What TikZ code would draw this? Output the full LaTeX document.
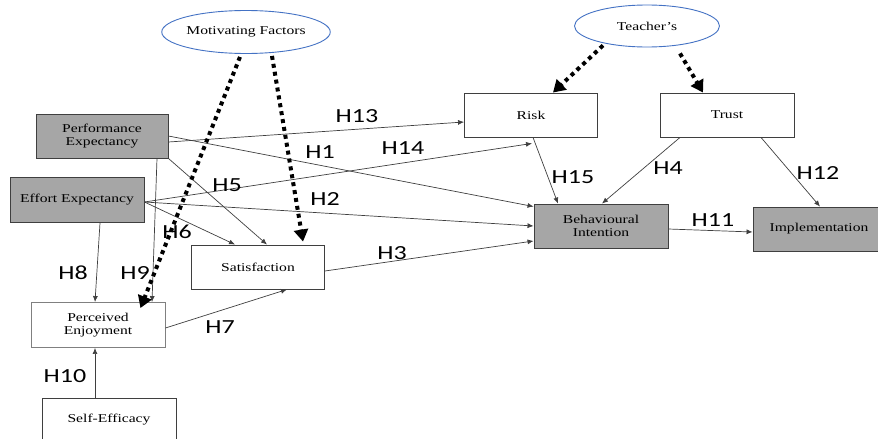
\documentclass[tikz,border=0pt]{standalone}
\usepackage{fontspec}
\setmainfont{Liberation Serif}[FakeStretch=1.3]
\newfontfamily\hypfont{Carlito}[FakeStretch=1.3]
\usepackage{tikz}
\usetikzlibrary{positioning, arrows.meta, calc, shapes.geometric}
\definecolor{boxgray}{HTML}{A6A6A6}
\definecolor{edgegray}{HTML}{3F3F3F}
\definecolor{ovalblue}{HTML}{4472C4}
\tikzset{
  construct/.style={draw=edgegray, line width=0.9pt, minimum width=134pt, minimum height=44pt,
                    inner sep=1pt, align=center, font=\fontsize{12}{13}\selectfont},
  graybox/.style={construct, fill=boxgray},
  whitebox/.style={construct, fill=white},
  factor/.style={ellipse, draw=ovalblue, line width=0.9pt, minimum width=145pt, minimum height=43pt,
                 inner sep=0pt, fill=white, font=\fontsize{12}{13}\selectfont},
  link/.style={draw=edgegray, line width=0.7pt, -{Latex[length=6pt,width=5pt]}},
  moderates/.style={line width=4pt, dash pattern=on 4pt off 4pt, -{Triangle[length=12pt,width=14pt]}},
  hyp/.style={font=\hypfont\fontsize{20}{22}\selectfont, inner sep=0pt}
}

\begin{document}
\begin{tikzpicture}[x=1pt, y=-1pt]
    \useasboundingbox (0,0) rectangle (878,439);
    \node[factor] (mot) at (246,32) {Motivating Factors};
    \node[factor, minimum height=42pt] (tea) at (647,26) {Teacher’s};
    \node[graybox, minimum width=132pt] (perf) at (102,136) {Performance\\Expectancy};
    \node[graybox, minimum height=45pt] (eff) at (77,200) {Effort Expectancy};
    \node[whitebox, minimum width=133pt] (risk) at (531,115) {Risk};
    \node[whitebox] (trust) at (727,115) {Trust};
    \node[graybox] (beh) at (601,226) {Behavioural\\Intention};
    \node[graybox, minimum width=132pt] (impl) at (819,229) {Implementation};
    \node[whitebox, minimum width=133pt] (sat) at (258,267) {Satisfaction};
    \node[whitebox, draw=gray, minimum height=45pt] (enj) at (98,325) {Perceived\\Enjoyment};
    \node[whitebox] (self) at (109,420) {Self-Efficacy};

    \draw[link] ($(perf.east)+(0,6)$) -- ($(risk.west)+(0,7)$);
    \draw[link] (perf.east) -- ($(beh.north west)+(0,3)$);
    \draw[link] ($(eff.east)+(0,2)$) -- ($(risk.south)+(1,6)$);
    \draw[link] ($(eff.east)+(0,2)$) -- (beh.west);
    \draw[link] ($(eff.east)+(0,2)$) -- ($(sat.north)+(-23,0)$);
    \draw[link] (perf.south east) -- ($(sat.north)+(9,0)$);
    \draw[link] ($(eff.south)+(23,0)$) -- ($(enj.north)+(-3,0)$);
    \draw[link] ($(perf.south)+(55,0)$) -- ($(enj.north)+(54,0)$);
    \draw[link] ($(self.north)+(-14,0)$) -- ($(enj.south)+(-3,0)$);
    \draw[link] ($(enj.east)+(0,3)$) -- ($(sat.south)+(29,0)$);
    \draw[link] ($(sat.east)+(0,4)$) -- ($(beh.west)+(0,15)$);
    \draw[link] ($(risk.south)+(2,0)$) -- ($(beh.north)+(-43,0)$);
    \draw[link] ($(trust.south)+(-47,0)$) -- ($(beh.north)+(1,0)$);
    \draw[link] ($(trust.south)+(34,0)$) -- ($(impl.north)+(1,0)$);
    \draw[link] ($(beh.east)+(0,3)$) -- ($(impl.west)+(0,3)$);

    \draw[moderates] ($(mot.south)+(-6,3)$) -- ($(enj.north east)+(-25,6)$);
    \draw[moderates] ($(mot.south)+(26,2)$) -- ($(sat.north)+(45,-3)$);
    \draw[moderates] ($(tea.south)+(-44,-2)$) -- ($(risk.north)+(22,0)$);
    \draw[moderates] ($(tea.south)+(33,6)$) -- ($(trust.north)+(-24,0)$);

    \node[hyp] (h13) at (357,116) {H13};
    \node[hyp] (h1) at (320,152) {H1};
    \node[hyp] (h14) at (403,148) {H14};
    \node[hyp] (h5) at (227,185) {H5};
    \node[hyp] (h2) at (325,199) {H2};
    \node[hyp] (h6) at (177,232) {H6};
    \node[hyp] (h8) at (73,273) {H8};
    \node[hyp] (h9) at (135,273) {H9};
    \node[hyp] (h3) at (392,253) {H3};
    \node[hyp] (h7) at (220,327) {H7};
    \node[hyp] (h10) at (65,376) {H10};
    \node[hyp] (h15) at (573,177) {H15};
    \node[hyp] (h4) at (668,168) {H4};
    \node[hyp] (h12) at (818,173) {H12};
    \node[hyp] (h11) at (713,220) {H11};
  \end{tikzpicture}
\end{document}
